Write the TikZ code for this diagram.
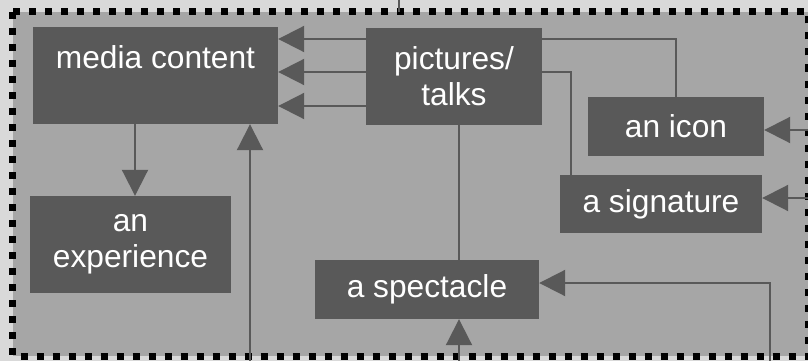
\documentclass[tikz,border=0pt]{standalone}
\usepackage{fontspec}
\setmainfont{Liberation Sans}
\usetikzlibrary{arrows.meta,calc}
\definecolor{outergray}{HTML}{D9D9D9}
\definecolor{innergray}{HTML}{A6A6A6}
\definecolor{boxgray}{HTML}{595959}
\tikzset{
  box/.style={fill=boxgray, text=white, align=center, inner sep=0pt,
    font=\fontsize{31.7}{36}\selectfont},
  link/.style={draw=boxgray, line width=2pt},
  arr/.style={link, -{Triangle[length=26pt,width=26pt]}}
}
\begin{document}
\begin{tikzpicture}[x=1pt,y=-1pt]
\useasboundingbox (0,0) rectangle (808,361);
\fill[outergray] (0,0) rectangle (808,361);
\draw[fill=innergray, line width=7pt, dash pattern=on 7pt off 9pt] (12.5,12) rectangle (808,356);
% boxes
\node[box, minimum width=245pt, minimum height=97pt] (media) at (155.5,75.5) {media content\\[0pt]~};
\node[box, minimum width=176pt, minimum height=97pt] (pics) at (454,76.5) {pictures/\\talks};
\node[box, minimum width=176pt, minimum height=59pt] (icon) at (676,126.5) {an icon};
\node[box, minimum width=202pt, minimum height=58pt] (sig) at (661,204) {a signature};
\node[box, minimum width=224pt, minimum height=59pt] (spect) at (427,289.5) {a spectacle};
\node[box, minimum width=201pt, minimum height=97pt] (exper) at (130.5,244.5) {an\\experience};
% free ends outside the frame
\coordinate (top) at (398.5,0);
\coordinate (rightA) at (808,130);
\coordinate (rightB) at (808,198);
\coordinate (botA) at (250,361);
\coordinate (botB) at (459,361);
\coordinate (botC) at (770,361);
% connectors
\draw[link] (top) -- (398.5,12);
\foreach \dy in {-37.5,-4.5,29.5}
  \draw[arr] ($(pics.west)+(0,\dy)$) -- (media.east |- {$(pics.west)+(0,\dy)$});
\draw[link] ($(pics.east)+(0,-37.5)$) -| (icon.north);
\draw[link] ($(pics.east)+(0,-4.5)$) -| ($(sig.north west)+(11,0)$);
\draw[link] (pics.south -| botB) -- (spect.north -| botB);
\draw[arr] (rightA) -- (icon.east |- rightA);
\draw[arr] (rightB) -- (sig.east |- rightB);
\draw[arr] (botC) |- (spect.east |- {0,283});
\draw[arr] (botB) -- (spect.south -| botB);
\draw[arr] (botA) -- (media.south -| botA);
\draw[arr] (media.south -| 135,0) -- (exper.north -| 135,0);
\end{tikzpicture}
\end{document}
